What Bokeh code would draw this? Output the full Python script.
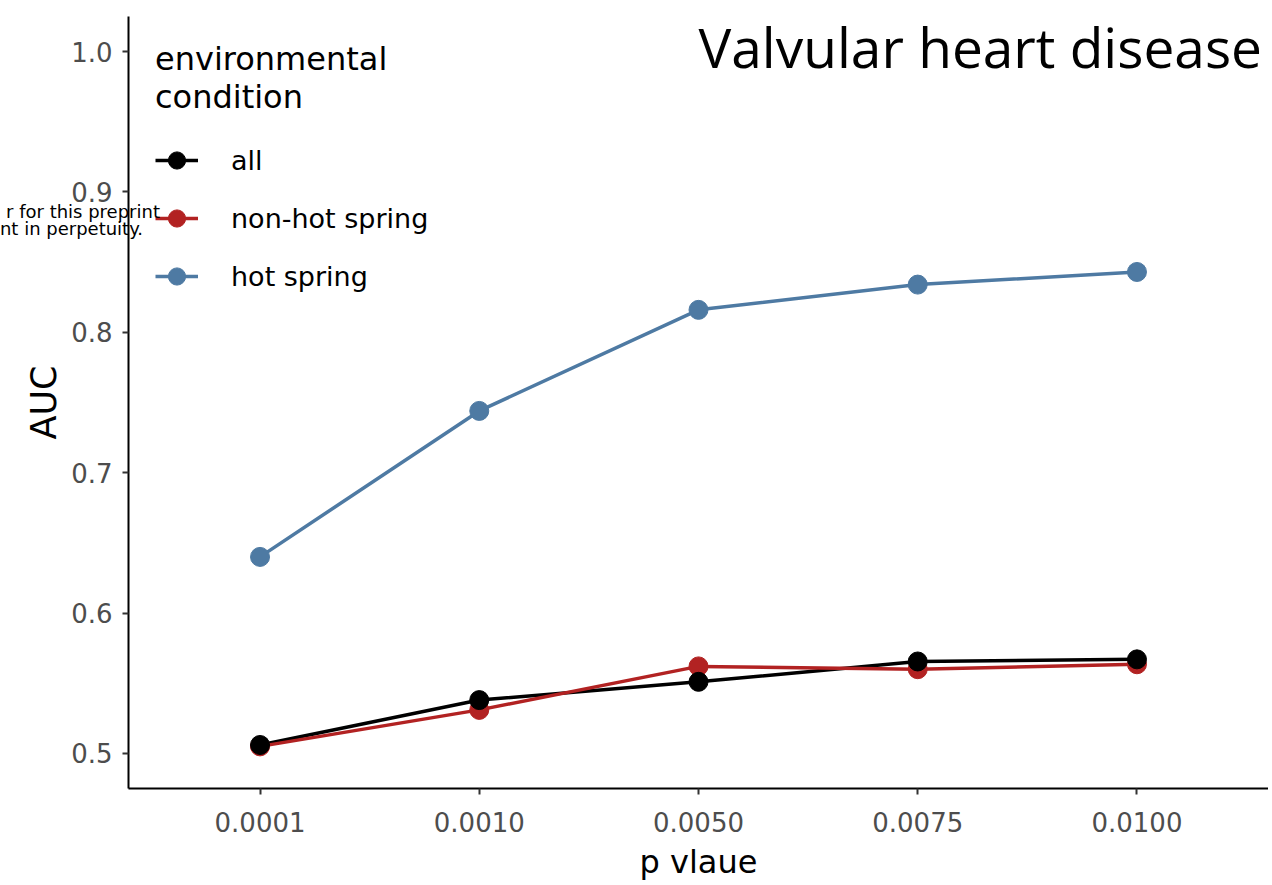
from bokeh.plotting import figure
from bokeh.models import (FactorRange, Range1d, FixedTicker, Legend, LegendItem,
                          Label, ColumnDataSource, PrintfTickFormatter, Div)
from bokeh.layouts import column
from bokeh.embed import file_html
from bokeh.resources import INLINE

# ---- data ----
p_values = ["0.0001", "0.0010", "0.0050", "0.0075", "0.0100"]
auc_all = [0.506, 0.538, 0.551, 0.5655, 0.567]
auc_non_hot = [0.505, 0.531, 0.562, 0.560, 0.5635]
auc_hot = [0.640, 0.744, 0.816, 0.834, 0.843]
series_names = ["all", "non-hot spring", "hot spring"]
series_colors = ["#000000", "#B22222", "#4E7AA3"]
y_ticks = [0.5, 0.6, 0.7, 0.8, 0.9, 1.0]
watermark_lines = ["r for this preprint", "nt in perpetuity."]

FONT = "DejaVu Sans"

p = figure(
    width=1268, height=885,
    x_range=FactorRange(factors=p_values, range_padding=0.04),
    y_range=Range1d(0.475, 1.025),
    output_backend="svg", toolbar_location=None,
    min_border_left=128, min_border_right=0, min_border_top=16, min_border_bottom=97,
)
p.outline_line_color = None
p.xgrid.visible = False
p.ygrid.visible = False
p.background_fill_color = "white"
p.border_fill_color = "white"

src = ColumnDataSource(dict(x=p_values, all=auc_all, nonhot=auc_non_hot, hot=auc_hot))
cols = ["all", "nonhot", "hot"]

lines = []
for c, col in zip(cols, series_colors):
    lines.append(p.line(x="x", y=c, source=src, line_color=col, line_width=3.5))
points = {}
for idx in [1, 0, 2]:
    points[idx] = p.scatter(x="x", y=cols[idx], source=src, size=19,
                            fill_color=series_colors[idx], line_color=series_colors[idx])

items = [LegendItem(label=series_names[i], renderers=[lines[i], points[i]]) for i in range(3)]
legend = Legend(items=items, location=(27, 489))
legend.title = "environmental\ncondition"
legend.title_text_font = FONT
legend.title_text_font_size = "32px"
legend.title_text_font_style = "normal"
legend.title_text_color = "#000000"
legend.title_text_line_height = 1.25
legend.title_standoff = 21
legend.label_text_font = FONT
legend.label_text_font_size = "27px"
legend.label_text_color = "#000000"
legend.glyph_width = 43
legend.glyph_height = 46
legend.label_height = 46
legend.spacing = 12
legend.label_standoff = 33
legend.padding = 0
legend.margin = 0
legend.border_line_color = None
legend.background_fill_alpha = 0
p.add_layout(legend, "center")

# axes
for ax in (p.xaxis[0], p.yaxis[0]):
    ax.axis_line_width = 2
    ax.axis_line_color = "#000000"
    ax.major_tick_line_color = "#333333"
    ax.major_tick_line_width = 2
    ax.major_tick_out = 6
    ax.major_tick_in = 0
    ax.minor_tick_line_color = None
    ax.major_label_text_font = FONT
    ax.major_label_text_font_size = "26px"
    ax.major_label_text_color = "#4D4D4D"
    ax.axis_label_text_font = FONT
    ax.axis_label_text_font_style = "normal"
    ax.axis_label_text_color = "#000000"

p.xaxis.axis_label = "p vlaue"
p.xaxis.axis_label_text_font_size = "32px"
p.xaxis.major_label_standoff = 17
p.xaxis.axis_label_standoff = 8
p.yaxis.axis_label = "AUC"
p.yaxis.axis_label_text_font_size = "35px"
p.yaxis.ticker = FixedTicker(ticks=y_ticks)
p.yaxis.formatter = PrintfTickFormatter(format="%.1f")
p.yaxis.major_label_standoff = 10
p.yaxis.axis_label_standoff = 4

# title inside plot
p.add_layout(Label(x=570, y=742, x_units="screen", y_units="screen",
                   text="Valvular heart disease", text_font="Open Sans",
                   text_font_size="55px", text_color="#000000",
                   text_baseline="alphabetic", text_align="left"))

# overlay text at the left edge (cut in the reference), placed over the canvas
wm_divs = []
for txt, right_edge, top in zip(watermark_lines, [155, 138], [197, 214]):
    wm_divs.append(Div(
        text=txt,
        styles={"position": "absolute", "left": f"{right_edge - 220}px", "top": f"{top}px",
                "width": "220px", "text-align": "right", "white-space": "nowrap",
                "font-family": "DejaVu Sans", "font-size": "18px", "line-height": "20px",
                "color": "#000000", "z-index": "10", "pointer-events": "none"},
    ))

root = column(p, *wm_divs, spacing=0, styles={"position": "relative"})

open("out.html", "w").write(file_html(root, INLINE))
